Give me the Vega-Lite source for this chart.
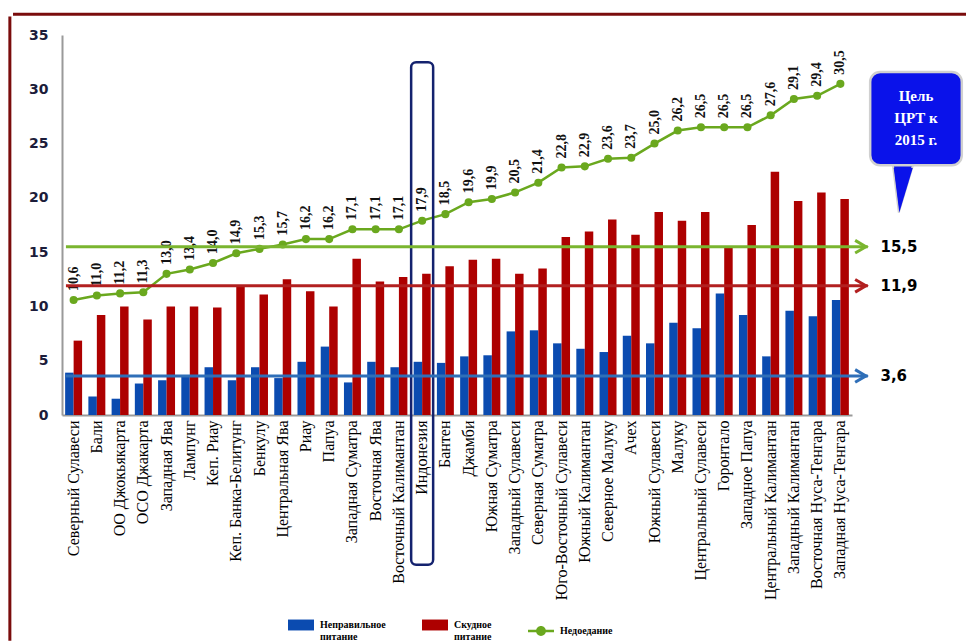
{
  "$schema": "https://vega.github.io/schema/vega-lite/v6.json",
  "width": 790,
  "height": 380,
  "autosize": {"type": "none"},
  "padding": {"left": 62, "top": 35, "right": 114, "bottom": 226},
  "background": "white",
  "config": {
    "view": {"stroke": null},
    "locale": {"number": {"decimal": ",", "thousands": " ", "grouping": [3], "currency": ["", ""]}},
    "axis": {"grid": false, "ticks": false, "domainColor": "#9a9a9a", "domainWidth": 2, "title": null},
    "axisX": {"labelFont": "Liberation Serif", "labelFontSize": 16, "labelColor": "#000", "labelLimit": 0, "labelPadding": 5},
    "axisY": {"labelFont": "DejaVu Sans", "labelFontWeight": "bold", "labelFontSize": 14, "labelColor": "#1c1c3a", "labelPadding": 14}
  },
  "datasets": {
    "regions": [
      {"region": "Северный Сулавеси", "m": 3.9, "p": 6.85, "u": 10.6},
      {"region": "Бали", "m": 1.7, "p": 9.2, "u": 11.0},
      {"region": "ОО Джокьякарта", "m": 1.5, "p": 10.0, "u": 11.2},
      {"region": "ОСО Джакарта", "m": 2.9, "p": 8.8, "u": 11.3},
      {"region": "Западная Ява", "m": 3.2, "p": 10.0, "u": 13.0},
      {"region": "Лампунг", "m": 3.6, "p": 10.0, "u": 13.4},
      {"region": "Кеп. Риау", "m": 4.4, "p": 9.9, "u": 14.0},
      {"region": "Кеп. Банка-Белитунг", "m": 3.2, "p": 11.8, "u": 14.9},
      {"region": "Бенкулу", "m": 4.4, "p": 11.1, "u": 15.3},
      {"region": "Центральная Ява", "m": 3.4, "p": 12.5, "u": 15.7},
      {"region": "Риау", "m": 4.9, "p": 11.4, "u": 16.2},
      {"region": "Папуа", "m": 6.3, "p": 10.0, "u": 16.2},
      {"region": "Западная Суматра", "m": 3.0, "p": 14.4, "u": 17.1},
      {"region": "Восточная Ява", "m": 4.9, "p": 12.3, "u": 17.1},
      {"region": "Восточный Калимантан", "m": 4.4, "p": 12.7, "u": 17.1},
      {"region": "Индонезия", "m": 4.9, "p": 13.0, "u": 17.9},
      {"region": "Бантен", "m": 4.8, "p": 13.7, "u": 18.5},
      {"region": "Джамби", "m": 5.4, "p": 14.3, "u": 19.6},
      {"region": "Южная Суматра", "m": 5.5, "p": 14.4, "u": 19.9},
      {"region": "Западный Сулавеси", "m": 7.7, "p": 13.0, "u": 20.5},
      {"region": "Северная Суматра", "m": 7.8, "p": 13.5, "u": 21.4},
      {"region": "Юго-Восточный Сулавеси", "m": 6.6, "p": 16.4, "u": 22.8},
      {"region": "Южный Калимантан", "m": 6.1, "p": 16.9, "u": 22.9},
      {"region": "Северное Малуку", "m": 5.8, "p": 18.0, "u": 23.6},
      {"region": "Ачех", "m": 7.3, "p": 16.6, "u": 23.7},
      {"region": "Южный Сулавеси", "m": 6.6, "p": 18.7, "u": 25.0},
      {"region": "Малуку", "m": 8.5, "p": 17.9, "u": 26.2},
      {"region": "Центральный Сулавеси", "m": 8.0, "p": 18.7, "u": 26.5},
      {"region": "Горонтало", "m": 11.2, "p": 15.4, "u": 26.5},
      {"region": "Западное Папуа", "m": 9.2, "p": 17.5, "u": 26.5},
      {"region": "Центральный Калимантан", "m": 5.4, "p": 22.4, "u": 27.6},
      {"region": "Западный Калимантан", "m": 9.6, "p": 19.7, "u": 29.1},
      {"region": "Восточная Нуса-Тенгара", "m": 9.1, "p": 20.5, "u": 29.4},
      {"region": "Западная Нуса-Тенгара", "m": 10.6, "p": 19.9, "u": 30.5}
    ],
    "targets": [
      {"series": "u", "target": 15.5},
      {"series": "p", "target": 11.9},
      {"series": "m", "target": 3.6}
    ],
    "callout": [
      {"text": "Цель\nЦРТ к\n2015 г."}
    ],
    "highlight": [
      {"region": "Индонезия"}
    ]
  },
  "layer": [
    {
      "encoding": {
        "x": {
          "field": "region",
          "type": "nominal",
          "sort": null,
          "title": null,
          "scale": {
            "paddingInner": 0.27,
            "paddingOuter": 0.135,
            "domain": ["Северный Сулавеси", "Бали", "ОО Джокьякарта", "ОСО Джакарта", "Западная Ява", "Лампунг", "Кеп. Риау", "Кеп. Банка-Белитунг", "Бенкулу", "Центральная Ява", "Риау", "Папуа", "Западная Суматра", "Восточная Ява", "Восточный Калимантан", "Индонезия", "Бантен", "Джамби", "Южная Суматра", "Западный Сулавеси", "Северная Суматра", "Юго-Восточный Сулавеси", "Южный Калимантан", "Северное Малуку", "Ачех", "Южный Сулавеси", "Малуку", "Центральный Сулавеси", "Горонтало", "Западное Папуа", "Центральный Калимантан", "Западный Калимантан", "Восточная Нуса-Тенгара", "Западная Нуса-Тенгара"]
          },
          "axis": {"labelAngle": -90}
        }
      },
      "layer": [
        {
          "data": {"name": "regions"},
          "transform": [{"fold": ["m", "p"], "as": ["key", "value"]}],
          "mark": {"type": "bar"},
          "encoding": {
            "y": {"field": "value", "type": "quantitative", "title": null, "scale": {"domain": [0, 35], "nice": false}, "axis": {"values": [0, 5, 10, 15, 20, 25, 30, 35]}},
            "xOffset": {"field": "key", "type": "nominal", "scale": {"paddingInner": 0, "paddingOuter": 0}},
            "color": {
              "field": "key",
              "type": "nominal",
              "scale": {"domain": ["m", "p", "u"], "range": ["#0b4bb0", "#ad0000", "#6aa81e"]},
              "legend": {
                "orient": "none",
                "legendX": 226,
                "legendY": 577,
                "direction": "horizontal",
                "title": null,
                "symbolSize": 676,
                "symbolType": "M-1,-0.42H1V0.42H-1Z",
                "symbolStrokeWidth": 0,
                "labelFont": "Liberation Serif",
                "labelFontWeight": "bold",
                "labelFontSize": 10,
                "labelColor": "#000",
                "labelOffset": 6,
                "columnPadding": 36,
                "labelExpr": "datum.value === 'm' ? ['Неправильное', 'питание'] : datum.value === 'p' ? ['Скудное', 'питание'] : 'Недоедание'",
                "encode": {
                  "symbols": {
                    "update": {
                      "shape": [
                        {"test": "datum.value === 'u'", "value": "M-1,-0.1H1V0.1H-1Z M-0.38,0A0.38,0.38 0 1,1 0.38,0A0.38,0.38 0 1,1 -0.38,0Z"},
                        {"value": "M-1,-0.42H1V0.42H-1Z"}
                      ]
                    }
                  }
                }
              }
            }
          }
        },
        {
          "data": {"name": "regions"},
          "mark": {"type": "line", "strokeWidth": 2.5, "point": {"filled": true, "size": 65}},
          "encoding": {
            "y": {"field": "u", "type": "quantitative", "title": null, "scale": {"domain": [0, 35], "nice": false}},
            "color": {"datum": "u"}
          }
        },
        {
          "data": {"name": "regions"},
          "mark": {"type": "text", "angle": 270, "align": "left", "baseline": "middle", "dx": 9, "font": "Liberation Serif", "fontWeight": "bold", "fontSize": 14, "color": "#111"},
          "encoding": {
            "y": {"field": "u", "type": "quantitative", "title": null, "scale": {"domain": [0, 35], "nice": false}},
            "text": {"field": "u", "type": "quantitative", "format": ".1f"}
          }
        },
        {
          "data": {"name": "highlight"},
          "mark": {"type": "bar", "width": 22, "fill": "white", "fillOpacity": 0, "stroke": "#14226e", "strokeWidth": 2.5, "cornerRadius": 5},
          "encoding": {
            "y": {"datum": 32.5, "type": "quantitative", "scale": {"domain": [0, 35], "nice": false}},
            "y2": {"datum": -13.8}
          }
        }
      ]
    },
    {
      "layer": [
        {
          "data": {"name": "targets"},
          "mark": {"type": "rule", "strokeWidth": 3},
          "encoding": {
            "x": {"datum": 0.005, "type": "quantitative", "scale": {"domain": [0, 1], "nice": false, "zero": false}, "axis": null},
            "x2": {"datum": 1.02},
            "y": {"field": "target", "type": "quantitative", "title": null, "scale": {"domain": [0, 35], "nice": false}},
            "color": {"field": "series", "type": "nominal", "scale": {"domain": ["m", "p", "u"], "range": ["#2f6fb8", "#b22020", "#7ab52f"]}, "legend": null}
          }
        },
        {
          "data": {"name": "targets"},
          "mark": {"type": "point", "shape": "M-1,-1L0.7,0L-1,1", "filled": false, "strokeWidth": 3, "size": 160, "opacity": 1},
          "encoding": {
            "x": {"datum": 1.012, "type": "quantitative"},
            "y": {"field": "target", "type": "quantitative", "title": null, "scale": {"domain": [0, 35], "nice": false}},
            "color": {"field": "series", "type": "nominal", "legend": null}
          }
        },
        {
          "data": {"name": "targets"},
          "mark": {"type": "text", "align": "left", "baseline": "middle", "font": "DejaVu Sans", "fontWeight": "bold", "fontSize": 15, "color": "#000"},
          "encoding": {
            "x": {"datum": 1.036, "type": "quantitative"},
            "y": {"field": "target", "type": "quantitative", "title": null, "scale": {"domain": [0, 35], "nice": false}},
            "text": {"field": "target", "type": "quantitative", "format": ".1f"}
          }
        },
        {
          "data": {"name": "callout"},
          "mark": {"type": "point", "shape": "M-0.5,-1L0.35,-1L-0.25,1Z", "filled": true, "size": 2400, "color": "#0a12ea", "stroke": "#d0d0d0", "strokeWidth": 2, "opacity": 1},
          "encoding": {
            "x": {"datum": 1.067, "type": "quantitative"},
            "y": {"datum": 20.9, "type": "quantitative", "scale": {"domain": [0, 35], "nice": false}}
          }
        },
        {
          "data": {"name": "callout"},
          "mark": {"type": "rect", "color": "#0a12ea", "stroke": "#d0d0d0", "strokeWidth": 2.5, "cornerRadius": 10},
          "encoding": {
            "x": {"datum": 1.023, "type": "quantitative"},
            "x2": {"datum": 1.139},
            "y": {"datum": 31.6, "type": "quantitative", "scale": {"domain": [0, 35], "nice": false}},
            "y2": {"datum": 23.0}
          }
        },
        {
          "data": {"name": "callout"},
          "mark": {"type": "point", "shape": "M-0.5,-1L0.35,-1L-0.25,1Z", "filled": true, "size": 2000, "color": "#0a12ea", "strokeWidth": 0, "opacity": 1},
          "encoding": {
            "x": {"datum": 1.067, "type": "quantitative"},
            "y": {"datum": 20.7, "type": "quantitative", "scale": {"domain": [0, 35], "nice": false}}
          }
        },
        {
          "data": {"name": "callout"},
          "mark": {"type": "text", "lineBreak": "\n", "align": "center", "baseline": "middle", "font": "Liberation Serif", "fontWeight": "bold", "fontSize": 15, "lineHeight": 22, "color": "white"},
          "encoding": {
            "x": {"datum": 1.081, "type": "quantitative"},
            "y": {"datum": 29.4, "type": "quantitative", "scale": {"domain": [0, 35], "nice": false}},
            "text": {"field": "text", "type": "nominal"}
          }
        },
        {
          "data": {"name": "callout"},
          "mark": {"type": "rule", "strokeWidth": 3, "color": "#7a0c0c"},
          "encoding": {
            "x": {"datum": -0.062, "type": "quantitative"},
            "x2": {"datum": 1.2},
            "y": {"datum": 36.9, "type": "quantitative", "scale": {"domain": [0, 35], "nice": false}}
          }
        },
        {
          "data": {"name": "callout"},
          "mark": {"type": "rule", "strokeWidth": 3, "color": "#7a0c0c"},
          "encoding": {
            "x": {"datum": -0.066, "type": "quantitative"},
            "y": {"datum": 36.7, "type": "quantitative", "scale": {"domain": [0, 35], "nice": false}},
            "y2": {"datum": -20.8}
          }
        }
      ]
    }
  ],
  "resolve": {"scale": {"x": "independent", "color": "independent"}}
}
